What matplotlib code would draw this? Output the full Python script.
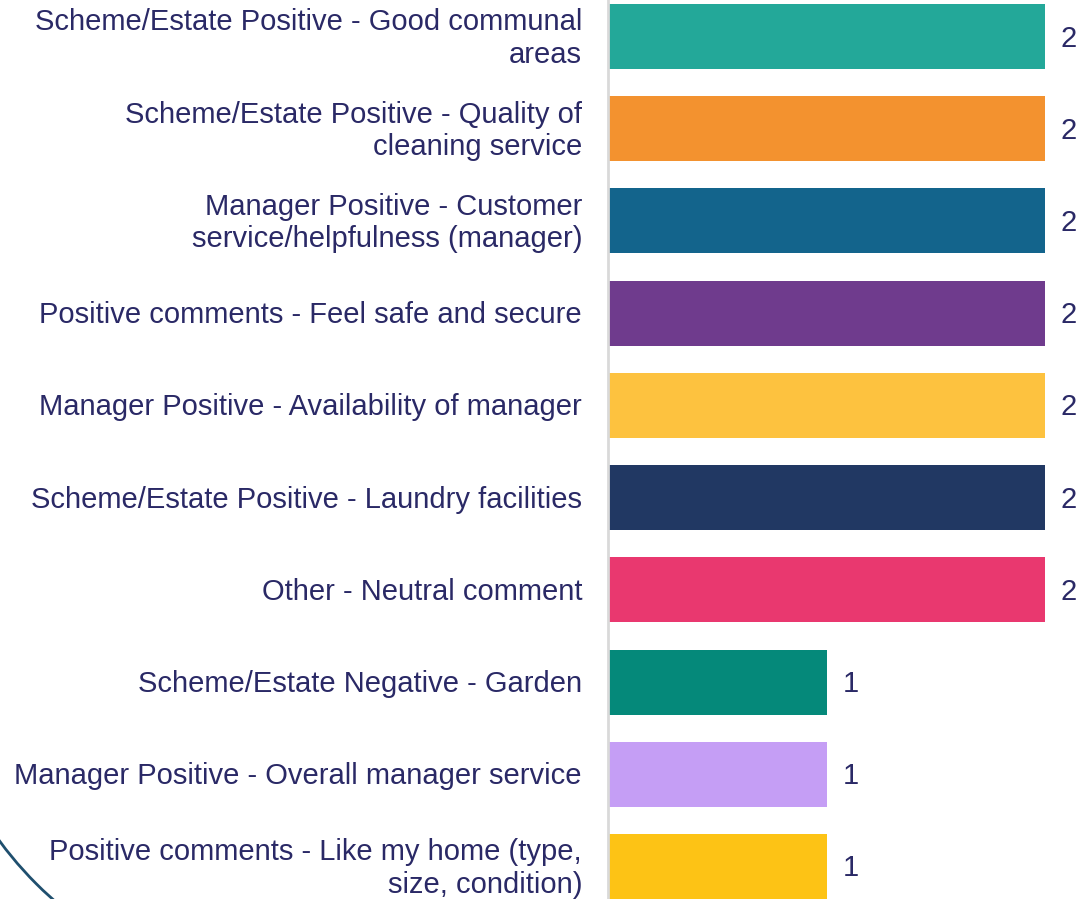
import matplotlib
matplotlib.use("Agg")
import matplotlib.pyplot as plt
from matplotlib.patches import Arc
from matplotlib.transforms import ScaledTranslation

categories = [
    "Scheme/Estate Positive - Good communal\nareas",
    "Scheme/Estate Positive - Quality of\ncleaning service",
    "Manager Positive - Customer\nservice/helpfulness (manager)",
    "Positive comments - Feel safe and secure",
    "Manager Positive - Availability of manager",
    "Scheme/Estate Positive - Laundry facilities",
    "Other - Neutral comment",
    "Scheme/Estate Negative - Garden",
    "Manager Positive - Overall manager service",
    "Positive comments - Like my home (type,\nsize, condition)",
]
values = [2, 2, 2, 2, 2, 2, 2, 1, 1, 1]
colors = ["#23A899", "#F3922F", "#13648C", "#6F3B8D", "#FDC23F",
          "#213863", "#E9386F", "#05897A", "#C59EF5", "#FDC315"]

W, H = 1084, 899
fig = plt.figure(figsize=(W / 100, H / 100), dpi=100)
ax = fig.add_axes([608 / W, 0, 1 - 608 / W, 1])

n = len(categories)
step = 92.2
pos = list(range(n))
ax.barh(pos, values, height=65 / step, color=colors)
ax.set_ylim(9 + 32.5 / step, -36.5 / step)
unit = (1045 - 608) / 2
ax.set_xlim(0, (W - 608) / unit)

text_color = "#2A2966"
shift = ax.transData + ScaledTranslation(0, -2 / 100, fig.dpi_scale_trans)
for i, (lab, v) in enumerate(zip(categories, values)):
    ax.text(-26 / unit, i, lab, ha="right", va="center", fontsize=21,
            color=text_color, family="Liberation Sans", linespacing=1.2,
            transform=shift)
    ax.text(v + 16 / unit, i, str(v), ha="left", va="center", fontsize=21,
            color=text_color, family="Liberation Sans", transform=shift)

for s in ["top", "right", "bottom"]:
    ax.spines[s].set_visible(False)
ax.spines["left"].set_color("#D9D9D9")
ax.spines["left"].set_linewidth(2)
ax.set_xticks([])
ax.set_yticks([])

# decorative arc bottom-left
arc = Arc((300 / W, 1 - 620 / H), 2 * 373 / W, 2 * 373 / H, angle=0,
          theta1=180, theta2=270, transform=fig.transFigure,
          color="#1F4F6E", linewidth=2)
fig.patches.append(arc)

fig.savefig("out.png", dpi=100)
